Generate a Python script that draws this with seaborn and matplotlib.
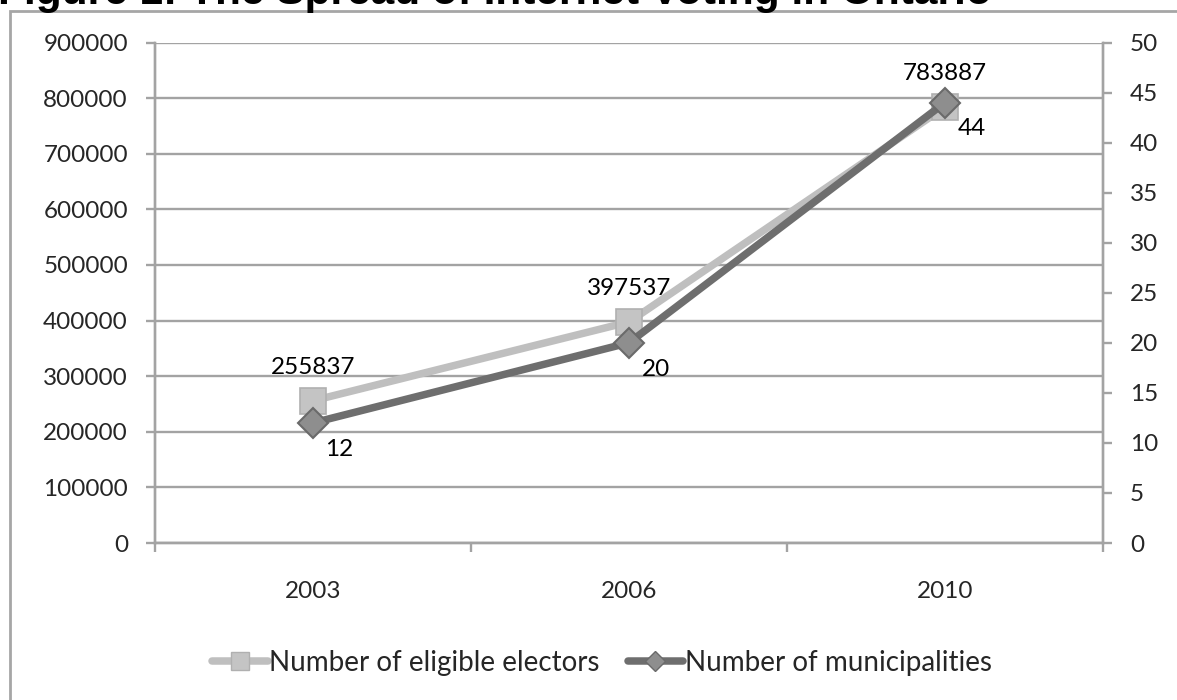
import matplotlib
matplotlib.use("Agg")
import matplotlib.pyplot as plt
import seaborn as sns
import pandas as pd
from matplotlib.patches import Rectangle
from matplotlib.lines import Line2D

# Data
years = ["2003", "2006", "2010"]
electors = [255837, 397537, 783887]
municipalities = [12, 20, 44]
left_ticks = [0, 100000, 200000, 300000, 400000, 500000, 600000, 700000, 800000, 900000]
right_ticks = [0, 5, 10, 15, 20, 25, 30, 35, 40, 45, 50]

title = "Figure 1: The Spread of Internet Voting in Ontario"
elector_label = "Number of eligible electors"
muni_label = "Number of municipalities"

sns.set_theme(style="white")
plt.rcParams["font.family"] = ["Lato", "DejaVu Sans"]

df = pd.DataFrame({"year": years, "electors": electors, "municipalities": municipalities})

W, H, DPI = 1177, 700, 100
fig = plt.figure(figsize=(W / DPI, H / DPI), dpi=DPI)

grid_c = "#a3a3a3"
light_line = "#bfbfbf"
dark_line = "#6e6e6e"

# Figure frame
fig.patches.append(Rectangle((10 / W, -0.2), 2.0, (H - 11) / H + 0.2,
                             transform=fig.transFigure, fill=False,
                             edgecolor="#a6a6a6", linewidth=2.0, zorder=0))
# Caption running off the top edge of the page
fig.text(-2 / W, 1 - 4 / H, title, fontsize=30.5, fontweight="bold",
         family=["Liberation Sans", "DejaVu Sans"], ha="left", va="baseline",
         color="black")

ax = fig.add_axes([155 / W, (H - 543) / H, (1103 - 155) / W, (543 - 42.5) / H])
ax2 = ax.twinx()

sns.lineplot(data=df, x="year", y="electors", ax=ax, sort=False, color=light_line,
             linewidth=5.4, marker="s", markersize=18.5, markerfacecolor="#c4c4c4",
             markeredgecolor="#b0b0b0", markeredgewidth=1.2, legend=False)
sns.lineplot(data=df, x="year", y="municipalities", ax=ax2, sort=False, color=dark_line,
             linewidth=5.4, marker="D", markersize=15, markerfacecolor="#8e8e8e",
             markeredgecolor="#6a6a6a", markeredgewidth=1.5, legend=False)

ax.set_xlim(-0.5, 2.5)
ax.set_ylim(0, 900000)
ax2.set_ylim(0, 50)

# Gridlines
ax.set_yticks(left_ticks)
ax.set_yticklabels([str(v) for v in left_ticks])
ax2.set_yticks(right_ticks)
ax2.set_yticklabels([str(v) for v in right_ticks])
ax.grid(axis="y", color=grid_c, linewidth=1.7)
ax.grid(axis="x", visible=False)
ax2.grid(False)
ax.set_axisbelow(True)

# Category ticks at band boundaries, labels at band centres
ax.set_xticks([-0.5, 0.5, 1.5, 2.5])
ax.set_xticklabels([])
ax.set_xticks([0, 1, 2], minor=True)
ax.set_xticklabels(years, minor=True)
ax.tick_params(axis="x", which="major", direction="out", length=6.5, width=1.7,
               color=grid_c, bottom=True)
ax.tick_params(axis="x", which="minor", length=0, pad=27, labelsize=17.5)
ax.tick_params(axis="y", direction="out", length=6.5, width=1.7, color=grid_c,
               left=True, pad=13, labelsize=17.5)
ax2.tick_params(axis="y", direction="out", length=6.5, width=1.7, color=grid_c,
                right=True, pad=13, labelsize=17.5)

for a in (ax, ax2):
    a.set_xlabel("")
    a.set_ylabel("")
    a.spines["top"].set_visible(False)
    for side in ("left", "right", "bottom"):
        a.spines[side].set_color(grid_c)
        a.spines[side].set_linewidth(1.7)

# Value labels
for i, v in enumerate(electors):
    ax.annotate(str(v), (years[i], v), xytext=(0, 24), textcoords="offset points",
                ha="center", va="center", fontsize=17.5, color="black")
for i, v in enumerate(municipalities):
    ax2.annotate(str(v), (years[i], v), xytext=(9, -19), textcoords="offset points",
                 ha="left", va="center", fontsize=17.5, color="black")

handles = [
    Line2D([], [], color=light_line, linewidth=5.4, marker="s", markersize=12.5,
           markerfacecolor="#c4c4c4", markeredgecolor="#b0b0b0"),
    Line2D([], [], color=dark_line, linewidth=5.4, marker="D", markersize=10,
           markerfacecolor="#8e8e8e", markeredgecolor="#6a6a6a"),
]
fig.legend(handles, [elector_label, muni_label], loc="center",
           bbox_to_anchor=(602 / W, 37 / H), ncol=2, frameon=False,
           fontsize=20, handlelength=2.0, handletextpad=0.05, columnspacing=1.0)

fig.savefig("out.png", dpi=DPI)
